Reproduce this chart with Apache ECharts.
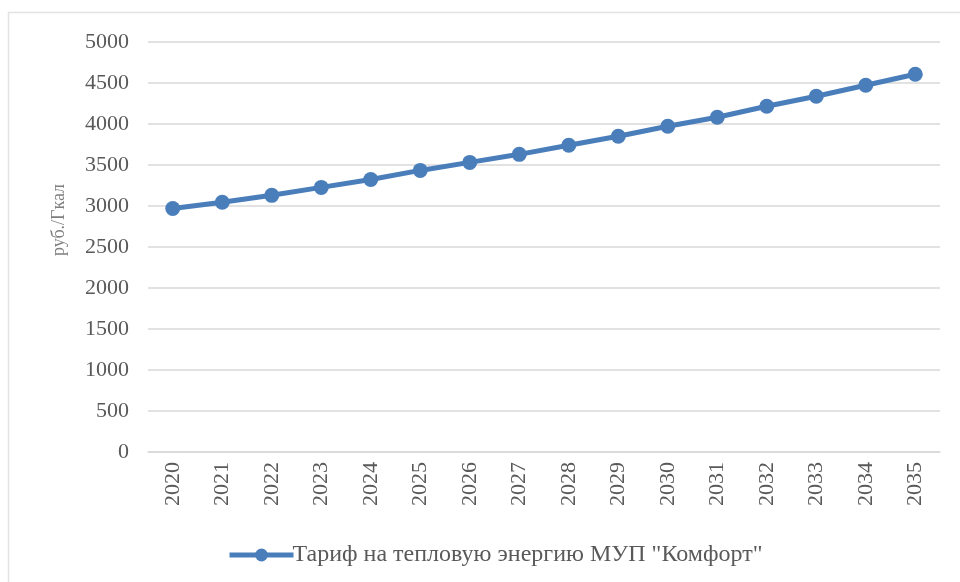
<!DOCTYPE html>
<html>
<head>
<meta charset="utf-8">
<script src="https://cdn.jsdelivr.net/npm/echarts@6/dist/echarts.min.js"></script>
<style>html,body{margin:0;padding:0;background:#fff}#c{width:960px;height:582px}</style>
</head>
<body>
<div id="c"></div>
<script>
const years = ['2020','2021','2022','2023','2024','2025','2026','2027','2028','2029','2030','2031','2032','2033','2034','2035'];
const tariff = [2970, 3045, 3130, 3227, 3324, 3434, 3532, 3630, 3740, 3850, 3972, 4082, 4216, 4338, 4472, 4606];
const seriesName = 'Тариф на тепловую энергию МУП "Комфорт"';
const yAxisName = 'руб./Гкал';

const font = 'Liberation Serif, Times New Roman, serif';
const chart = echarts.init(document.getElementById('c'));
chart.setOption({
  animation: false,
  backgroundColor: '#fff',
  textStyle: { fontFamily: font },
  graphic: [{
    type: 'rect', shape: { x: 8.5, y: 12.5, width: 1000, height: 1000 },
    style: { fill: 'none', stroke: '#e3e3e3', lineWidth: 1.5 }, silent: true
  }, {
    type: 'text', x: 59, y: 220, rotation: Math.PI / 2,
    style: { text: yAxisName, font: '18px ' + font, fill: '#7f7f7f', align: 'center', verticalAlign: 'middle' },
    silent: true
  }],
  grid: { left: 148, right: 20, top: 42, bottom: 130, containLabel: false, outerBoundsMode: 'none' },
  legend: {
    left: 222, top: 538,
    itemWidth: 64, itemHeight: 16,
    lineStyle: { width: 5 },
    textStyle: { fontFamily: font, fontSize: 24, color: '#595959', padding: [0,0,0,-6] },
    data: [seriesName]
  },
  xAxis: {
    type: 'category', data: years, boundaryGap: true,
    axisLine: { show: true, lineStyle: { color: '#d9d9d9', width: 1.5 } },
    axisTick: { show: false },
    axisLabel: { rotate: 90, margin: 10, fontFamily: font, fontSize: 22, color: '#595959' }
  },
  yAxis: {
    type: 'value', min: 0, max: 5000, interval: 500,
    axisLine: { show: false }, axisTick: { show: false },
    axisLabel: { margin: 19, fontFamily: font, fontSize: 22, color: '#595959', formatter: v => String(v) },
    splitLine: { lineStyle: { color: '#d9d9d9', width: 1.5 } }
  },
  series: [{
    name: seriesName, type: 'line', data: tariff,
    symbol: 'circle', symbolSize: 15,
    lineStyle: { color: '#4a7ebb', width: 5 },
    itemStyle: { color: '#4a7ebb' }
  }]
});
</script>
</body>
</html>
